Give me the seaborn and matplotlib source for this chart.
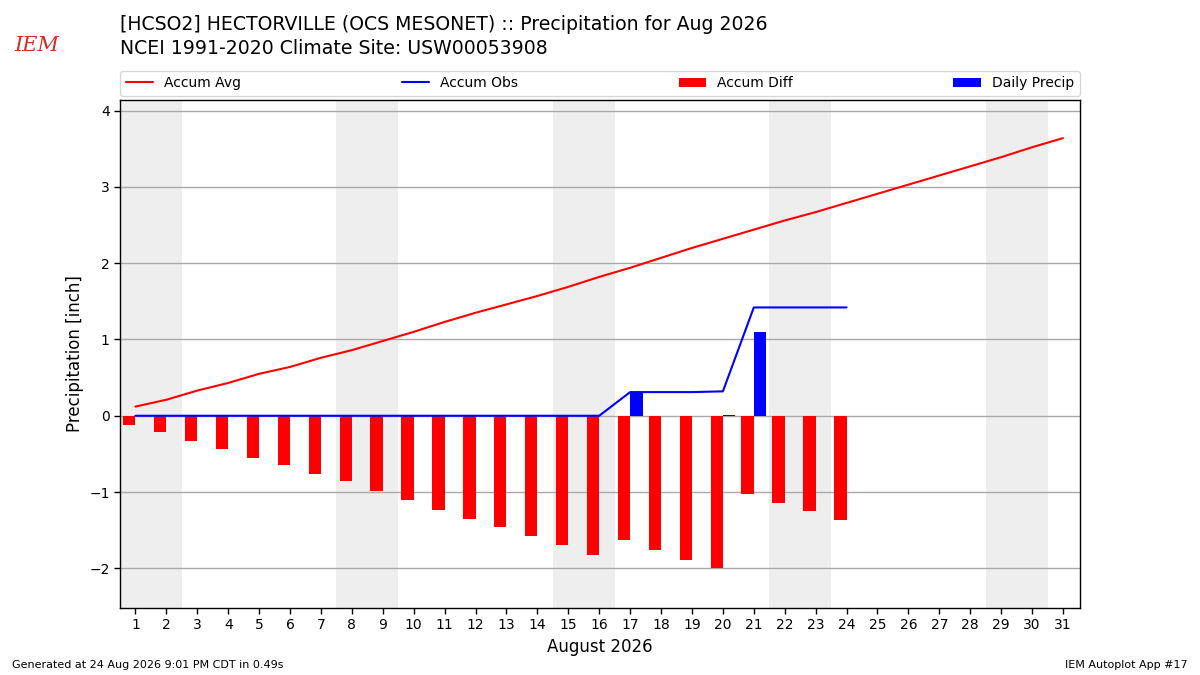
import numpy as np
import pandas as pd
import matplotlib
matplotlib.use("Agg")
import matplotlib.pyplot as plt
import seaborn as sns

# данные
days_all = list(range(1, 32))
accum_avg = [0.12, 0.21, 0.33, 0.43, 0.55, 0.64, 0.76, 0.86, 0.98, 1.10,
             1.23, 1.35, 1.46, 1.57, 1.69, 1.82, 1.94, 2.07, 2.20, 2.32,
             2.44, 2.56, 2.67, 2.79, 2.91, 3.03, 3.15, 3.27, 3.39, 3.52, 3.64]
days_obs = list(range(1, 25))
daily_precip = [0, 0, 0, 0, 0, 0, 0, 0, 0, 0, 0, 0, 0, 0, 0, 0,
                0.31, 0, 0, 0.01, 1.10, 0, 0, 0]
accum_obs = [0, 0, 0, 0, 0, 0, 0, 0, 0, 0, 0, 0, 0, 0, 0, 0,
             0.31, 0.31, 0.31, 0.32, 1.42, 1.42, 1.42, 1.42]
weekend_starts = [1, 8, 15, 22, 29]

df_avg = pd.DataFrame({"day": days_all, "avg": accum_avg})
df_obs = pd.DataFrame({"day": days_obs, "obs": accum_obs, "daily": daily_precip})
df_obs["diff"] = df_obs["obs"] - df_avg["avg"][:len(days_obs)].values

sns.set_style("white")
plt.rcParams["font.family"] = ["DejaVu Sans"]
plt.rcParams.update({"text.color": "black", "axes.labelcolor": "black",
                     "xtick.color": "black", "ytick.color": "black"})

fig = plt.figure(figsize=(12, 6.75), dpi=100)
ax = fig.add_axes([0.1, 0.0993, 0.8, 0.7526])

# выходные
for d in weekend_starts:
    ax.axvspan(d - 0.5, d + 1.5, color="#eeeeee", zorder=0, lw=0)

ax.bar(df_obs["day"], df_obs["diff"], width=-0.4, align="edge",
       color="r", linewidth=0, label="Accum Diff", zorder=2)
ax.bar(df_obs["day"], df_obs["daily"], width=0.4, align="edge",
       color="b", linewidth=0, label="Daily Precip", zorder=2)
sns.lineplot(data=df_avg, x="day", y="avg", color="r", lw=1.5,
             label="Accum Avg", ax=ax, zorder=3)
sns.lineplot(data=df_obs, x="day", y="obs", color="b", lw=1.5,
             label="Accum Obs", ax=ax, zorder=3)

ax.set_xlim(0.5, 31.55)
ax.set_ylim(-2.52, 4.14)
ax.set_xticks(days_all)
ax.set_yticks([-2, -1, 0, 1, 2, 3, 4])
ax.grid(axis="y", color="#aaaaaa", lw=1, zorder=1)
ax.set_axisbelow(True)
for s in ax.spines.values():
    s.set_color("black")
    s.set_linewidth(1)
ax.tick_params(axis="both", direction="out", length=4, width=1,
               labelsize=10, bottom=True, left=True, color="black",
               labelcolor="black")
ax.set_xlabel("August 2026", fontsize=12)
ax.set_ylabel("Precipitation [inch]", fontsize=12)

handles, labels = ax.get_legend_handles_labels()
order = ["Accum Avg", "Accum Obs", "Accum Diff", "Daily Precip"]
hmap = dict(zip(labels, handles))
ax.legend([hmap[k] for k in order], order, ncol=4, mode="expand",
          loc="lower left", bbox_to_anchor=(0, 1.008, 1, 0.05),
          fontsize=10, frameon=True, borderaxespad=0)

fig.text(0.1, 0.978, "[HCSO2] HECTORVILLE (OCS MESONET) :: Precipitation for Aug 2026\n"
         "NCEI 1991-2020 Climate Site: USW00053908",
         fontsize=13.6, va="top", ha="left", linespacing=1.35)
fig.text(0.031, 0.932, "IEM", color="#d42a2a", fontsize=15, style="italic",
         family="serif", ha="center", va="center")
fig.text(0.01, 0.01, "Generated at 24 Aug 2026 9:01 PM CDT in 0.49s", fontsize=8)
fig.text(0.99, 0.01, "IEM Autoplot App #17", fontsize=8, ha="right")

fig.savefig("out.png", dpi=100)
